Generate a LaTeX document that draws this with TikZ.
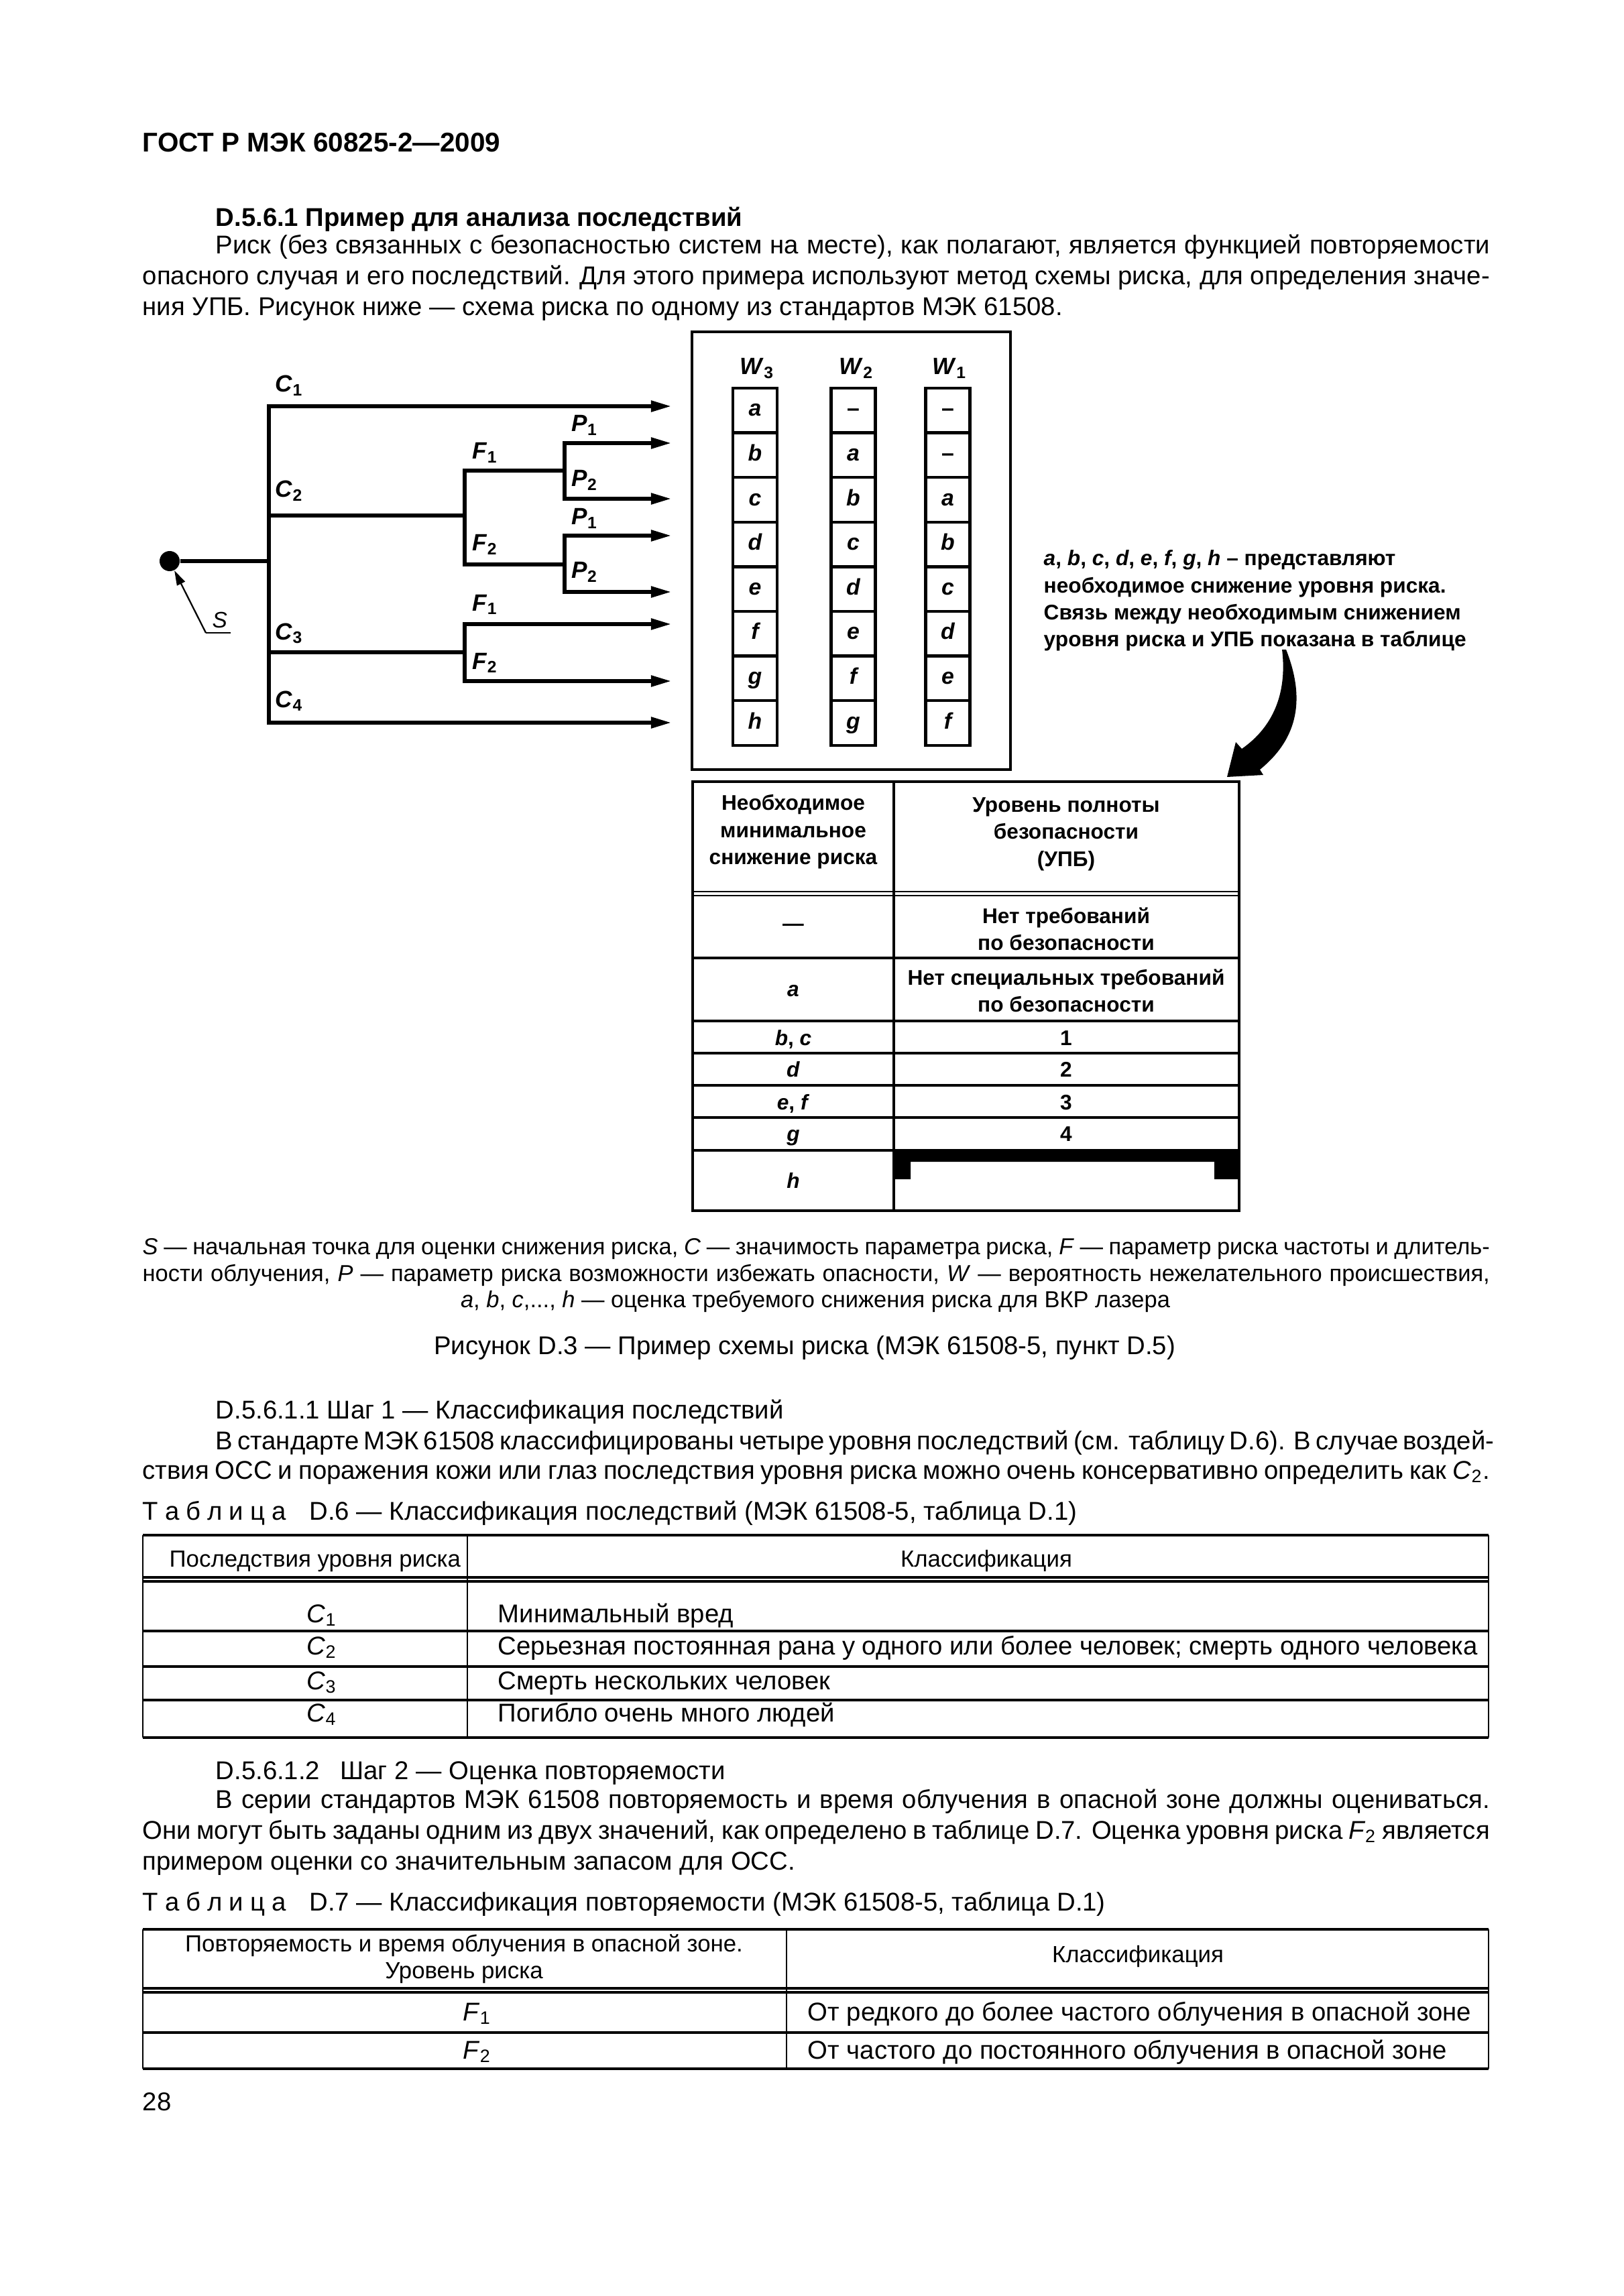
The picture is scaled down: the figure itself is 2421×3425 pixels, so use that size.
\documentclass[tikz,border=0pt]{standalone}
\usepackage{fontspec}
\setmainfont{Liberation Sans}
\usetikzlibrary{arrows.meta, positioning}

\newcommand\docfont{\fontsize{10.9}{13}\selectfont}
\newcommand\legfont{\fontsize{9.8}{12}\selectfont}
\newcommand\thfont{\fontsize{9.9}{11.5}\selectfont}
\newcommand\figfont{\fontsize{9}{11.5}\selectfont\bfseries}
\newcommand\sub[2]{\textit{#1}\textsubscript{\upshape #2}}
\newcommand\fullline[1]{\makebox[20.08cm][s]{#1}}
\newcommand\indline[1]{\makebox[18.99cm][s]{#1}}

\tikzstyle{branch} = [line width=1.5pt, line join=miter]
\tikzstyle{arrow} = [branch, -{Triangle[length=0.3cm,width=0.16cm]}]
\tikzstyle{pointer} = [line width=0.65pt, -{Triangle[length=0.22cm,width=0.13cm]}]
\tikzstyle{dot} = [circle, fill=black, minimum size=0.3cm, inner sep=0pt]
\tikzstyle{lbl} = [anchor=base west, inner sep=0pt,
    font=\fontsize{10}{11}\selectfont\bfseries]
\tikzstyle{cell} = [
    draw,
    line width=1.2pt,
    minimum width=0.66cm,
    minimum height=0.666cm,
    inner sep=0pt,
    text height=0.22cm,
    text depth=0.05cm,
    font=\fontsize{9.6}{10}\selectfont\bfseries\itshape
]
\tikzstyle{txt} = [anchor=base west, inner sep=0pt, font=\docfont]
\tikzstyle{ctxt} = [anchor=base, inner sep=0pt, font=\docfont]
\tikzstyle{upb} = [inner sep=0pt, font=\figfont, align=center]
\tikzstyle{upbrule} = [line width=1pt]
\tikzstyle{rule} = [line width=0.9pt]
\tikzstyle{thinrule} = [line width=0.5pt]

\begin{document}
\begin{tikzpicture}[x=0.01cm, y=-0.01cm]
\fill[white] (0,0) rectangle (2421,3425);
\useasboundingbox (0,0) rectangle (2421,3425);

% page head and first paragraph
\node[txt, font=\fontsize{11.5}{13}\selectfont\bfseries] (gost) at (212,227) {ГОСТ Р МЭК 60825-2—2009};
\node[txt, font=\docfont\bfseries] (sec1) at (321,338) {D.5.6.1 Пример для анализа последствий};
\node[txt] (pa1) at (321,379) {\indline{Риск (без связанных с безопасностью систем на месте), как полагают, является функцией повторяемости}};
\node[txt] (pa2) at (212,425) {\fullline{опасного случая и его последствий. Для этого примера используют метод схемы риска, для определения значе-}};
\node[txt] (pa3) at (212,471) {ния УПБ. Рисунок ниже — схема риска по одному из стандартов МЭК 61508.};

% risk graph
\node[dot] (start) at (253,837) {};
\coordinate (root) at (401,837);
\coordinate (c1) at (401,606);
\coordinate (c2) at (401,769);
\coordinate (c3) at (401,973);
\coordinate (c4) at (401,1078);
\coordinate (f2) at (693,769);
\coordinate (f2a) at (693,702);
\coordinate (f2b) at (693,842);
\coordinate (p1) at (842,702);
\coordinate (p1a) at (842,661);
\coordinate (p1b) at (842,744);
\coordinate (p2) at (842,842);
\coordinate (p2a) at (842,799);
\coordinate (p2b) at (842,883);
\coordinate (f3) at (693,973);
\coordinate (f3a) at (693,931);
\coordinate (f3b) at (693,1016);
\coordinate (e1) at (1001,606);
\coordinate (e2) at (1001,661);
\coordinate (e3) at (1001,744);
\coordinate (e4) at (1001,799);
\coordinate (e5) at (1001,883);
\coordinate (e6) at (1001,931);
\coordinate (e7) at (1001,1016);
\coordinate (e8) at (1001,1078);
\coordinate (sfoot) at (307,944);
\coordinate (send) at (344,944);

\draw[branch] (start) -- (root);
\draw[arrow] (root) -- (c1) -- (e1);
\draw[arrow] (root) -- (c4) -- (e8);
\draw[branch] (c2) -- (f2);
\draw[branch] (c3) -- (f3);
\draw[branch] (f2b) -- (f2a) -- (p1);
\draw[branch] (f2a) -- (f2b) -- (p2);
\draw[arrow] (p1b) -- (p1a) -- (e2);
\draw[arrow] (p1a) -- (p1b) -- (e3);
\draw[arrow] (p2b) -- (p2a) -- (e4);
\draw[arrow] (p2a) -- (p2b) -- (e5);
\draw[arrow] (f3b) -- (f3a) -- (e6);
\draw[arrow] (f3a) -- (f3b) -- (e7);
\draw[pointer] (sfoot) -- (start);
\draw[line width=0.65pt] (sfoot) -- (send);

\node[lbl] (lc1) at (410,585) {\sub{C}{1}};
\node[lbl] (lc2) at (410,742) {\sub{C}{2}};
\node[lbl] (lc3) at (410,954) {\sub{C}{3}};
\node[lbl] (lc4) at (410,1055) {\sub{C}{4}};
\node[lbl] (lf1) at (704,685) {\sub{F}{1}};
\node[lbl] (lf2) at (704,822) {\sub{F}{2}};
\node[lbl] (lf3) at (704,911) {\sub{F}{1}};
\node[lbl] (lf4) at (704,998) {\sub{F}{2}};
\node[lbl] (lp1) at (852,644) {\sub{P}{1}};
\node[lbl] (lp2) at (852,726) {\sub{P}{2}};
\node[lbl] (lp3) at (852,783) {\sub{P}{1}};
\node[lbl] (lp4) at (852,863) {\sub{P}{2}};
\node[txt, font=\fontsize{9.5}{10}\selectfont\itshape] (ls) at (316,936) {S};

% W columns
\draw[line width=1.3pt] (1032,495) rectangle (1507,1148);
\node[lbl] (w3) at (1103,559) {\sub{W}{3}};
\node[lbl] (w2) at (1251,559) {\sub{W}{2}};
\node[lbl] (w1) at (1390,559) {\sub{W}{1}};
\foreach \t [count=\i] in {a,b,c,d,e,f,g,h}
    \node[cell] (w3c\i) at (1126,{545.7+66.6*\i}) {\t};
\foreach \t [count=\i] in {{\upshape –},a,b,c,d,e,f,g}
    \node[cell] (w2c\i) at (1272.5,{545.7+66.6*\i}) {\t};
\foreach \t [count=\i] in {{\upshape –},{\upshape –},a,b,c,d,e,f}
    \node[cell] (w1c\i) at (1413.5,{545.7+66.6*\i}) {\t};

\node[anchor=north west, inner sep=0pt, font=\figfont, align=left] (note) at (1556,820)
{\textit{a}, \textit{b}, \textit{c}, \textit{d}, \textit{e}, \textit{f}, \textit{g}, \textit{h} – представляют\\
необходимое снижение уровня риска.\\
Связь между необходимым снижением\\
уровня риска и УПБ показана в таблице};

\fill (1912,969) -- (1918,969) .. controls (1946,1040) and (1938,1100) .. (1879,1148)
    -- (1884,1156) -- (1830,1159) -- (1843,1107) -- (1852,1117)
    .. controls (1898,1085) and (1920,1035) .. (1912,969) -- cycle;

% SIL table
\draw[upbrule] (1033,1166) rectangle (1848,1806);
\draw[upbrule] (1333,1166) -- (1333,1806);
\draw[line width=0.6pt] (1033,1330) -- (1848,1330) (1033,1336) -- (1848,1336);
\foreach \yy in {1429,1523,1571,1619,1667,1716}
    \draw[upbrule] (1033,\yy) -- (1848,\yy);
\fill (1334,1716) -- (1848,1716) -- (1848,1759) -- (1811,1759) -- (1811,1733)
    -- (1358,1733) -- (1358,1759) -- (1334,1759) -- cycle;

\node[upb] (th1) at (1183,1241) {Необходимое\\минимальное\\снижение риска};
\node[upb] (th2) at (1590,1244) {Уровень полноты\\безопасности\\(УПБ)};
\node[upb] (r1a) at (1183,1383) {—};
\node[upb] (r1b) at (1590,1386) {Нет требований\\по безопасности};
\node[upb, font=\figfont\itshape] (r2a) at (1183,1478) {a};
\node[upb] (r2b) at (1590,1478) {Нет специальных требований\\по безопасности};
\node[upb, anchor=base] (r3a) at (1183,1559) {\textit{b}, \textit{c}};
\node[upb, anchor=base] (r3b) at (1590,1559) {1};
\node[upb, anchor=base] (r4a) at (1183,1606) {\textit{d}};
\node[upb, anchor=base] (r4b) at (1590,1606) {2};
\node[upb, anchor=base] (r5a) at (1183,1655) {\textit{e}, \textit{f}};
\node[upb, anchor=base] (r5b) at (1590,1655) {3};
\node[upb, anchor=base] (r6a) at (1183,1702) {\textit{g}};
\node[upb, anchor=base] (r6b) at (1590,1702) {4};
\node[upb, anchor=base] (r7a) at (1183,1772) {\textit{h}};

% legend and caption
\node[txt, font=\legfont] (lg1) at (212,1871) {\fullline{\textit{S} — начальная точка для оценки снижения риска, \textit{C} — значимость параметра риска, \textit{F} — параметр риска частоты и длитель-}};
\node[txt, font=\legfont] (lg2) at (212,1911) {\fullline{ности облучения, \textit{P} — параметр риска возможности избежать опасности, \textit{W} — вероятность нежелательного происшествия,}};
\node[ctxt, font=\legfont] (lg3) at (1216,1950) {\textit{a}, \textit{b}, \textit{c},..., \textit{h} — оценка требуемого снижения риска для ВКР лазера};
\node[ctxt] (cap) at (1200,2020) {Рисунок D.3 — Пример схемы риска (МЭК 61508-5, пункт D.5)};

% step 1
\node[txt] (sec2) at (321,2116) {D.5.6.1.1 Шаг 1 — Классификация последствий};
\node[txt] (pb1) at (321,2162) {\indline{В стандарте МЭК 61508 классифицированы четыре уровня последствий (см. таблицу D.6). В случае воздей-}};
\node[txt] (pb2) at (212,2206) {\fullline{ствия ОСС и поражения кожи или глаз последствия уровня риска можно очень консервативно определить как \sub{C}{2}.}};
\node[txt] (tcap6) at (212,2267) {Т\hspace{0.1cm}а\hspace{0.1cm}б\hspace{0.1cm}л\hspace{0.1cm}и\hspace{0.1cm}ц\hspace{0.1cm}а\hspace{0.35cm}D.6 — Классификация последствий (МЭК 61508-5, таблица D.1)};

% table D.6
\draw[rule] (213,2290) -- (2220,2290);
\draw[rule] (213,2353) -- (2220,2353) (213,2359) -- (2220,2359);
\foreach \yy in {2433,2486,2536,2592}
    \draw[rule] (213,\yy) -- (2220,\yy);
\draw[thinrule] (213,2290) -- (213,2592) (2220,2290) -- (2220,2592);
\draw[thinrule] (697,2290) -- (697,2592);
\node[txt, font=\thfont] (h61) at (252,2337) {Последствия уровня риска};
\node[ctxt, font=\thfont] (h62) at (1471,2337) {Классификация};
\node[txt] (c61) at (457,2420) {\sub{C}{1}};
\node[txt] (c62) at (457,2468) {\sub{C}{2}};
\node[txt] (c63) at (457,2520) {\sub{C}{3}};
\node[txt] (c64) at (457,2568) {\sub{C}{4}};
\node[txt] (d61) at (742,2420) {Минимальный вред};
\node[txt] (d62) at (742,2468) {Серьезная постоянная рана у одного или более человек; смерть одного человека};
\node[txt] (d63) at (742,2520) {Смерть нескольких человек};
\node[txt] (d64) at (742,2568) {Погибло очень много людей};

% step 2
\node[txt] (sec3) at (321,2654) {D.5.6.1.2\hspace{0.3cm}Шаг 2 — Оценка повторяемости};
\node[txt] (pc1) at (321,2697) {\indline{В серии стандартов МЭК 61508 повторяемость и время облучения в опасной зоне должны оцениваться.}};
\node[txt] (pc2) at (212,2743) {\fullline{Они могут быть заданы одним из двух значений, как определено в таблице D.7. Оценка уровня риска \sub{F}{2} является}};
\node[txt] (pc3) at (212,2789) {примером оценки со значительным запасом для ОСС.};
\node[txt] (tcap7) at (212,2850) {Т\hspace{0.1cm}а\hspace{0.1cm}б\hspace{0.1cm}л\hspace{0.1cm}и\hspace{0.1cm}ц\hspace{0.1cm}а\hspace{0.35cm}D.7 — Классификация повторяемости (МЭК 61508-5, таблица D.1)};

% table D.7
\draw[rule] (213,2878) -- (2220,2878);
\draw[rule] (213,2966) -- (2220,2966) (213,2972) -- (2220,2972);
\foreach \yy in {3032,3086}
    \draw[rule] (213,\yy) -- (2220,\yy);
\draw[thinrule] (213,2878) -- (213,3086) (2220,2878) -- (2220,3086);
\draw[thinrule] (1173,2878) -- (1173,3086);
\node[inner sep=0pt, font=\thfont, align=center] (h71) at (692,2922) {Повторяемость и время облучения в опасной зоне.\\Уровень риска};
\node[ctxt, font=\thfont] (h72) at (1697,2927) {Классификация};
\node[txt] (f71) at (690,3014) {\sub{F}{1}};
\node[txt] (f72) at (690,3071) {\sub{F}{2}};
\node[txt] (d71) at (1204,3014) {От редкого до более частого облучения в опасной зоне};
\node[txt] (d72) at (1204,3071) {От частого до постоянного облучения в опасной зоне};

\node[txt] (page) at (212,3148) {28};
\end{tikzpicture}
\end{document}
